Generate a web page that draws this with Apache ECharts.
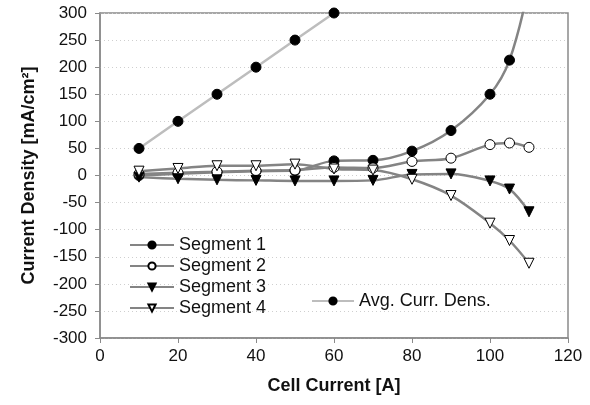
<!DOCTYPE html>
<html>
<head>
<meta charset="utf-8">
<script src="https://cdn.jsdelivr.net/npm/echarts@6/dist/echarts.min.js"></script>
<style>
  html, body { margin: 0; padding: 0; background: #fff; }
  #chart { width: 590px; height: 405px; }
</style>
</head>
<body>
<div id="chart"></div>
<script>
// cell current [A]
const current = [10, 20, 30, 40, 50, 60, 70, 80, 90, 100, 105, 110]
const seg1 = [0, 3, 6, 8, 9, 27, 28, 45, 83, 150, 213, 350]
const seg2 = [3, 5, 7, 9, 10, 15, 14, 26, 32, 57, 60, 52]
const seg3 = [-3, -6, -8, -9, -10, -10, -9, 2, 3, -10, -25, -67]
const seg4 = [8, 13, 18, 18, 21, 12, 10, -7, -37, -88, -120, -162]
const avgCurrent = [10, 20, 30, 40, 50, 60]
const avgDens = [50, 100, 150, 200, 250, 300]

const pairs = (xs, ys) => xs.map((x, i) => [x, ys[i]])
const font = 'Liberation Sans, Arial, sans-serif'

const chart = echarts.init(document.getElementById('chart'))

function segment(name, data, symbol, fill, rotate) {
  return {
    name,
    type: 'line',
    data: pairs(current, data),
    smooth: 0.35,
    symbol,
    symbolSize: 10,
    symbolRotate: rotate || 0,
    lineStyle: { color: '#848484', width: 2.5 },
    itemStyle: { color: fill, borderColor: '#000', borderWidth: 1 },
    z: 3
  }
}

const legendText = { fontSize: 18, lineHeight: 18, color: '#111', fontFamily: font }

chart.setOption({
  animation: false,
  textStyle: { fontFamily: font },
  grid: {
    left: 100, right: 22, top: 13, bottom: 67,
    show: true, borderColor: '#8a8a8a', borderWidth: 1.5
  },
  legend: [
    {
      data: ['Segment 1', 'Segment 2', 'Segment 3', 'Segment 4'],
      orient: 'vertical',
      left: 124, top: 231,
      itemWidth: 44, itemHeight: 9, itemGap: 3,
      textStyle: legendText
    },
    {
      data: ['Avg. Curr. Dens.'],
      left: 306, top: 287,
      itemWidth: 42, itemHeight: 9,
      textStyle: legendText
    }
  ],
  xAxis: {
    type: 'value',
    min: 0, max: 120, interval: 20,
    name: 'Cell Current [A]',
    nameLocation: 'middle',
    nameGap: 39,
    nameTextStyle: { fontSize: 18, fontWeight: 'bold', color: '#111', fontFamily: font },
    axisLine: { onZero: false, lineStyle: { color: '#8a8a8a', width: 1.5 } },
    axisTick: { show: true, length: 5, lineStyle: { color: '#8a8a8a' } },
    axisLabel: { fontSize: 17, color: '#111', margin: 10, fontFamily: font },
    splitLine: { show: false }
  },
  yAxis: {
    type: 'value',
    min: -300, max: 300, interval: 50,
    name: 'Current Density [mA/cm²]',
    nameLocation: 'middle',
    nameGap: 62,
    nameTextStyle: { fontSize: 18, fontWeight: 'bold', color: '#111', fontFamily: font },
    axisLine: { show: true, lineStyle: { color: '#8a8a8a', width: 1.5 } },
    axisTick: { show: true, length: 5, lineStyle: { color: '#8a8a8a' } },
    axisLabel: { fontSize: 17, color: '#111', margin: 13, fontFamily: font },
    splitLine: { show: true, lineStyle: { color: '#cfcfcf', type: [1, 3], width: 1 } }
  },
  series: [
    segment('Segment 1', seg1, 'circle', '#000'),
    segment('Segment 2', seg2, 'circle', '#fff'),
    segment('Segment 3', seg3, 'triangle', '#000', 180),
    segment('Segment 4', seg4, 'triangle', '#fff', 180),
    {
      name: 'Avg. Curr. Dens.',
      type: 'line',
      data: pairs(avgCurrent, avgDens),
      symbol: 'circle',
      symbolSize: 10,
      lineStyle: { color: '#bdbdbd', width: 2.5 },
      itemStyle: { color: '#000', borderColor: '#000', borderWidth: 1 },
      z: 2
    }
  ]
})
</script>
</body>
</html>
